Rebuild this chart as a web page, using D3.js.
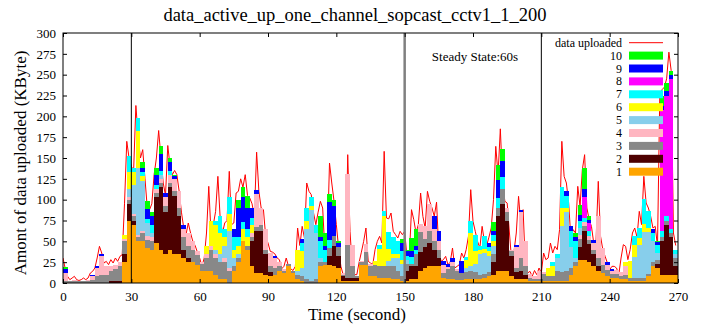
<!DOCTYPE html>
<html>
<head>
<meta charset="utf-8">
<script src="https://cdn.jsdelivr.net/npm/d3@7"></script>
<style>
  body { margin: 0; background: #fff; }
  text { font-family: "Liberation Serif", "Times New Roman", serif; fill: #000; }
</style>
</head>
<body>
<svg id="chart" width="706" height="327"></svg>
<script>
// total data uploaded per second, t = 0 .. 269
const uploaded = [
  30,17,8,4,6,8,4,3,4,6,
  4,6,12,14,18,30,44,36,24,26,
  22,28,24,30,26,32,34,95,170,150,
  140,135,213,175,150,160,125,90,88,95,
  130,150,183,150,120,105,165,140,130,135,
  130,110,85,66,58,72,60,50,45,37,
  30,20,30,60,116,58,70,86,128,78,
  60,72,75,134,70,72,108,110,125,115,
  130,105,102,95,80,157,110,90,88,55,
  48,38,37,35,30,28,17,20,30,20,
  17,15,20,66,45,68,54,120,110,106,
  84,70,85,98,90,37,45,144,120,98,
  70,42,20,10,12,154,62,20,10,10,
  25,37,50,66,26,24,22,40,50,56,
  48,158,78,77,84,62,58,54,62,58,
  62,32,30,88,76,60,70,108,80,66,
  110,98,90,80,97,38,26,28,32,22,
  25,42,18,20,22,36,30,40,56,112,
  74,62,50,42,68,50,45,55,66,100,
  164,130,185,120,98,96,60,26,38,60,
  104,70,88,20,12,14,8,15,10,18,
  12,36,28,30,48,36,44,40,64,170,
  128,120,96,52,64,60,116,92,136,154,
  90,76,68,48,50,122,56,40,32,24,
  16,20,20,18,10,30,46,44,28,40,
  60,66,55,86,70,128,96,90,80,66,
  68,44,225,232,235,245,277,255,60,45
];

// per-peer upload, one value per 2-second bin starting at t = 0, 2, 4 ... 268
const binSeconds = 2;
const peer1 = [
  0,0,0,0,0,0,0,0,0,0,0,0,0,
  25,75,70,50,50,42,40,
  48,40,35,40,35,35,30,25,25,22,
  15,15,15,10,5,5,0,15,25,50,
  40,20,12,12,10,8,10,15,12,20,
  12,5,3,0,0,0,20,22,22,20,
  18,3,3,3,3,22,22,8,8,6,
  6,6,5,5,3,3,5,5,15,18,
  20,20,20,6,5,5,4,4,5,5,
  5,5,6,8,10,15,15,15,8,5,
  5,5,3,2,2,3,3,3,3,3,
  3,10,20,28,28,25,20,15,12,8,
  6,6,5,5,3,3,3,3,8,20,
  18,10,10,10,10
];
const peer2 = [
  0,0,0,0,0,0,0,0,0,0,
  2,2,2,10,20,5,0,0,0,0,
  55,75,50,75,70,45,10,5,0,0,
  0,0,0,0,0,0,0,0,0,0,
  0,30,50,50,25,5,0,0,0,0,
  0,0,0,0,0,0,0,0,10,25,
  15,5,3,3,3,0,0,0,0,0,
  0,0,0,0,0,12,15,15,22,25,
  28,20,10,0,0,0,0,0,0,0,
  0,0,0,0,15,65,80,60,25,8,
  10,5,0,0,0,0,0,0,0,0,
  0,0,0,15,35,22,15,5,0,0,
  0,0,0,0,0,0,0,0,0,0,
  5,40,60,45,10
];
const peer3 = [
  2,2,2,2,2,2,4,8,10,10,
  12,15,18,15,5,5,5,10,10,10,
  5,5,8,5,5,10,15,15,15,12,
  8,15,25,20,20,20,15,5,5,0,
  5,5,5,8,5,8,8,5,3,3,
  2,5,5,5,3,5,5,3,10,12,
  10,2,40,15,2,3,15,12,14,15,
  15,15,15,10,5,8,3,15,24,10,
  15,10,10,6,12,15,10,8,8,10,
  8,5,5,5,10,10,18,10,5,5,
  15,10,3,3,3,8,5,5,12,10,
  12,8,5,10,5,5,5,10,10,8,
  5,5,3,5,3,3,3,3,3,5,
  5,5,5,5,10
];
const peer4 = [
  10,1,2,1,1,2,5,10,22,10,
  6,5,5,3,3,3,3,3,5,5,
  5,5,10,10,15,20,10,15,10,5,
  2,5,5,5,0,5,3,0,0,0,
  0,5,40,20,25,15,12,5,2,0,
  0,0,0,0,0,0,0,0,0,0,
  0,2,85,25,0,2,10,3,0,0,
  0,0,0,0,0,0,0,0,10,15,
  32,15,10,10,2,5,3,0,0,0,
  0,0,0,0,0,0,0,5,2,25,
  55,30,5,4,10,2,0,0,0,0,
  0,0,0,5,5,5,8,50,20,6,
  3,5,5,10,0,0,0,0,0,0,
  0,0,0,0,0
];
const peer5 = [
  0,0,0,0,0,0,0,0,0,0,
  0,0,0,0,10,35,80,60,15,5,
  0,5,0,0,0,0,0,0,0,0,
  0,0,0,5,10,15,45,10,5,0,
  0,0,0,0,0,0,0,0,0,0,
  0,5,10,60,85,55,5,0,0,0,
  0,0,0,0,0,0,0,0,0,0,
  0,5,10,15,15,5,0,0,0,0,
  0,0,0,0,0,0,0,0,5,5,
  10,25,25,20,10,0,0,0,0,0,
  0,0,0,0,0,0,0,0,15,55,
  70,25,5,8,0,0,0,0,0,0,
  0,0,0,0,0,25,40,55,50,25,
  8,0,0,0,5
];
const peer6 = [
  0,0,0,0,0,0,0,0,0,0,
  0,0,0,5,20,15,45,5,0,0,
  0,0,0,0,0,0,0,0,0,0,
  0,10,30,30,25,10,20,10,10,15,
  10,10,0,0,0,0,0,0,0,0,
  0,25,20,10,5,0,0,0,0,0,
  0,0,0,0,0,0,0,0,5,20,
  60,15,5,5,5,0,0,0,0,0,
  0,0,0,0,0,0,0,0,10,40,
  15,5,5,5,5,0,0,0,0,0,
  0,0,0,0,0,0,10,12,0,22,
  5,0,0,0,0,0,0,0,0,0,
  0,0,0,5,20,15,8,10,5,0,
  0,0,0,0,0
];
const peer7 = [
  0,0,0,0,0,0,0,0,0,0,
  0,0,0,0,20,5,15,5,5,10,
  5,5,0,5,0,0,0,0,0,0,
  0,0,0,5,20,10,20,15,10,8,
  10,8,0,0,0,0,0,0,0,0,
  0,0,10,15,10,10,20,15,10,0,
  0,0,0,0,0,0,0,0,0,5,
  5,20,20,15,10,5,8,5,0,0,
  0,0,0,0,0,0,0,0,3,15,
  20,5,15,5,8,12,14,0,0,0,
  0,0,0,0,0,0,0,5,5,25,
  15,20,20,8,5,5,0,0,0,0,
  0,0,0,0,0,10,12,30,20,10,
  10,8,5,5,5
];
const peer8 = [
  0,0,0,0,0,0,0,0,0,0,
  0,0,0,0,0,0,0,0,0,0,
  0,0,0,0,0,0,0,0,0,0,
  0,0,0,0,0,0,0,0,0,0,
  0,0,0,0,0,0,0,0,0,0,
  0,0,0,0,0,0,0,0,0,0,
  0,0,0,0,0,0,0,0,0,0,
  0,0,0,0,0,0,0,0,0,0,
  0,0,0,0,0,0,0,0,0,0,
  0,0,0,0,0,0,0,0,0,0,
  0,0,0,0,0,0,0,0,0,0,
  0,0,0,0,25,10,0,0,0,0,
  0,0,0,0,0,0,0,0,0,0,
  0,145,145,180,0
];
const peer9 = [
  5,0,0,0,0,0,1,2,3,0,
  0,0,0,0,0,0,0,5,12,10,
  12,20,5,10,3,0,5,0,0,0,
  0,0,0,0,0,0,0,10,35,30,
  25,12,5,0,0,0,2,0,0,0,
  0,0,5,0,0,0,5,5,45,35,
  5,0,0,0,0,0,0,0,0,0,
  0,0,0,0,10,5,8,5,0,0,
  0,15,12,4,4,5,0,15,0,0,
  0,0,0,5,5,22,20,0,0,3,
  3,0,0,0,0,0,0,0,0,0,
  5,5,5,8,10,4,4,0,0,3,
  3,0,0,0,0,0,0,0,0,5,
  3,5,5,5,0
];
const peer10 = [
  2,0,0,0,0,0,0,0,0,0,
  0,0,0,0,0,0,0,7,10,5,
  8,10,0,5,2,0,0,0,0,0,
  0,0,0,0,0,0,0,0,10,12,
  15,0,0,0,0,0,0,0,0,0,
  0,0,0,0,0,0,25,15,10,8,
  3,0,0,0,0,0,0,0,0,0,
  0,0,0,0,5,2,15,20,0,0,
  0,0,0,0,0,0,0,0,0,0,
  0,0,0,0,10,18,14,0,0,0,
  0,0,0,0,0,0,0,0,0,0,
  0,0,5,12,25,4,0,0,0,0,
  0,0,0,0,0,0,0,0,0,0,
  2,12,10,5,0
];

const peerNames = ["1","2","3","4","5","6","7","8","9","10"];
const peerColors = ["#ffa500","#4d0000","#888888","#ffb6c1","#87ceeb",
                    "#ffff00","#00ffff","#ff00ff","#0000ff","#00ff00"];
const xTicks = [0,30,60,90,120,150,180,210,240,270];
const yTicks = [0,25,50,75,100,125,150,175,200,225,250,275,300];
const markers = [30,150,210];

const svg = d3.select("#chart");
const plotLeft = 63, plotRight = 678, plotTop = 33, plotBottom = 283;

const x = d3.scaleLinear().domain([0, 270]).range([plotLeft, plotRight]);
const y = d3.scaleLinear().domain([0, 300]).range([plotBottom, plotTop]);

svg.append("defs").append("clipPath").attr("id", "plotclip")
  .append("rect").attr("x", plotLeft).attr("y", plotTop)
  .attr("width", plotRight - plotLeft).attr("height", plotBottom - plotTop);

// title
svg.append("text")
  .attr("x", 355).attr("y", 21)
  .attr("text-anchor", "middle")
  .style("font-size", "18.5px")
  .text("data_active_up_one_channel_sopcast_cctv1_1_200");

// build the stack rows
const peers = [peer1, peer2, peer3, peer4, peer5, peer6, peer7, peer8, peer9, peer10];
const rows = peer1.map((v, i) => {
  const row = { t: i * binSeconds };
  peerNames.forEach((k, j) => row[k] = peers[j][i]);
  return row;
});
// close the last step at the right edge
rows.push(Object.assign({}, rows[rows.length - 1], { t: 270 }));

const stacked = d3.stack().keys(peerNames)(rows);

const plot = svg.append("g").attr("clip-path", "url(#plotclip)");

// red total line first, the fills go over it
const line = d3.line()
  .x((d, i) => x(i))
  .y(d => y(d));
plot.append("path")
  .datum(uploaded)
  .attr("fill", "none")
  .attr("stroke", "#ff0000")
  .attr("stroke-width", 1)
  .attr("d", line);

const area = d3.area()
  .x(d => x(d.data.t))
  .y0(d => y(d[0]))
  .y1(d => y(d[1]))
  .curve(d3.curveStepAfter);

plot.selectAll("path.layer")
  .data(stacked)
  .join("path")
  .attr("class", "layer")
  .attr("fill", (d, i) => peerColors[i])
  .attr("shape-rendering", "crispEdges")
  .attr("d", area);

// marker lines
svg.selectAll("line.marker")
  .data(markers)
  .join("line")
  .attr("class", "marker")
  .attr("x1", d => x(d)).attr("x2", d => x(d))
  .attr("y1", plotTop).attr("y2", plotBottom)
  .attr("stroke", d => d === 150 ? "#808080" : "#000")
  .attr("stroke-width", d => d === 150 ? 2.5 : 1);

svg.append("text")
  .attr("x", x(180) + 2).attr("y", 61)
  .attr("text-anchor", "middle")
  .style("font-size", "13px")
  .text("Steady State:60s");

// axes, gnuplot style ticks pointing in
svg.append("g")
  .attr("transform", "translate(0," + plotBottom + ")")
  .call(d3.axisBottom(x).tickValues(xTicks).tickSizeInner(-4).tickSizeOuter(0).tickPadding(9));
svg.append("g")
  .attr("transform", "translate(0," + plotTop + ")")
  .call(d3.axisTop(x).tickValues(xTicks).tickSizeInner(-4).tickSizeOuter(0).tickFormat(""));
svg.append("g")
  .attr("transform", "translate(" + plotLeft + ",0)")
  .call(d3.axisLeft(y).tickValues(yTicks).tickSizeInner(-4).tickSizeOuter(0).tickPadding(7));
svg.append("g")
  .attr("transform", "translate(" + plotRight + ",0)")
  .call(d3.axisRight(y).tickValues(yTicks).tickSizeInner(-4).tickSizeOuter(0).tickFormat(""));

svg.selectAll(".domain").remove();
svg.selectAll(".tick text")
  .style("font-family", "'Liberation Serif', 'Times New Roman', serif")
  .style("font-size", "13px")
  .attr("fill", "#000");

// border
svg.append("rect")
  .attr("x", plotLeft).attr("y", plotTop)
  .attr("width", plotRight - plotLeft).attr("height", plotBottom - plotTop)
  .attr("fill", "none").attr("stroke", "#000").attr("stroke-width", 1);

// axis titles
svg.append("text")
  .attr("x", 357).attr("y", 320)
  .attr("text-anchor", "middle")
  .style("font-size", "17px")
  .text("Time (second)");

svg.append("text")
  .attr("transform", "translate(26,163) rotate(-90)")
  .attr("text-anchor", "middle")
  .style("font-size", "17px")
  .text("Amont of data uploaded (KByte)");

// legend
const legend = svg.append("g");
const legendY0 = 42.7, legendStep = 12.9;
legend.append("text")
  .attr("x", 622).attr("y", legendY0 + 4)
  .attr("text-anchor", "end")
  .style("font-size", "12px")
  .text("data uploaded");
legend.append("line")
  .attr("x1", 629).attr("x2", 663)
  .attr("y1", legendY0).attr("y2", legendY0)
  .attr("stroke", "#ff0000");

peerNames.slice().reverse().forEach((name, k) => {
  const cy = legendY0 + (k + 1) * legendStep;
  const idx = peerNames.indexOf(name);
  legend.append("text")
    .attr("x", 622).attr("y", cy + 4)
    .attr("text-anchor", "end")
    .style("font-size", "12px")
    .text(name);
  legend.append("rect")
    .attr("x", 629).attr("y", cy - 4)
    .attr("width", 34).attr("height", 8)
    .attr("fill", peerColors[idx]);
});
</script>
</body>
</html>
